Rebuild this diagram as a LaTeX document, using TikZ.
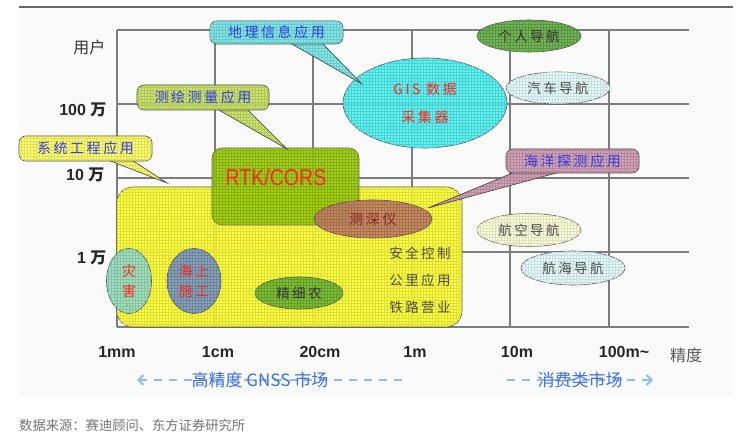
\documentclass[tikz,border=0pt]{standalone}
\usepackage{fontspec}
\setmainfont{Liberation Sans}
\newfontfamily\cjk{Noto Sans CJK SC}
\newfontfamily\cjksp[LetterSpace=18]{Noto Sans CJK SC}
\usetikzlibrary{shapes.geometric,patterns,arrows.meta}

\definecolor{gridc}{RGB}{125,125,125}
\definecolor{framebg}{RGB}{250,250,250}
\definecolor{ybox}{RGB}{255,255,50}
\definecolor{rtkc}{RGB}{150,200,10}
\definecolor{sscc}{RGB}{190,125,95}
\definecolor{gisc}{RGB}{80,240,240}
\definecolor{grnc}{RGB}{100,170,70}
\definecolor{lcyan}{RGB}{228,252,252}
\definecolor{lyel}{RGB}{255,255,215}
\definecolor{zhc}{RGB}{150,220,195}
\definecolor{hsc}{RGB}{120,150,190}
\definecolor{jxc}{RGB}{110,180,50}
\definecolor{c1c}{RGB}{120,228,228}
\definecolor{c2c}{RGB}{200,225,100}
\definecolor{c3c}{RGB}{255,255,100}
\definecolor{c4c}{RGB}{205,155,175}
\definecolor{cblue}{RGB}{50,60,235}
\definecolor{tred}{RGB}{255,40,30}
\definecolor{ssred}{RGB}{140,40,40}
\definecolor{mblue}{RGB}{60,110,235}
\definecolor{mdash}{RGB}{140,190,240}

\tikzset{
  gridline/.style={draw=gridc, line width=1.6pt},
  texture/.style={postaction={pattern=grid, pattern color=#1!88!black}},
  shp/.style={draw=black!70, line width=0.6pt, fill=#1, fill opacity=0.86, text opacity=1, inner sep=0pt, texture=#1},
  ell/.style={shp=#1, ellipse},
  navtext/.style={font=\cjksp\fontsize{13.5}{13.5}\selectfont, text=black!70},
  callbox/.style={draw=black!75, line width=0.6pt, rounded corners=7pt, inner sep=0pt,
     fill=#1, fill opacity=0.9, text opacity=1, text=cblue, texture=#1,
     font=\cjksp\fontsize{14}{14}\selectfont},
  callwedge/.style={fill=#1, fill opacity=0.9, texture=#1},
  wedgeline/.style={draw=black!75, line width=0.6pt},
  ylab/.style={anchor=east, font=\bfseries\fontsize{16}{16}\selectfont, text=black!85},
  xlab/.style={font=\bfseries\fontsize{16}{16}\selectfont, text=black!85},
  mkt/.style={draw=mdash, line width=2pt, dash pattern=on 8pt off 7pt},
  mkttext/.style={font=\cjk\fontsize{17}{17}\selectfont, text=mblue}
}

\begin{document}
\begin{tikzpicture}[x=1pt,y=-1pt]
\useasboundingbox (0,0) rectangle (745,438);

% frame
\fill[framebg] (19,7) rectangle (733,397);
\draw[black!60, line width=2pt] (19,7) -- (733,7);

% grid
\foreach \yy in {30,104,178,252,327} \draw[gridline] (117,\yy) -- (689,\yy);
\foreach \xx in {117,215,313,412,510,609} \draw[gridline] (\xx,30) -- (\xx,327);

% big shapes
\node[shp=ybox, rectangle, rounded corners=16pt, minimum width=345pt, minimum height=140pt] (sys) at (289.5,257) {};
\node[shp=rtkc, rectangle, rounded corners=10pt, draw=black!60, minimum width=147pt, minimum height=77pt] (rtk) at (285.5,186.5) {};
\node[anchor=center, text=tred, inner sep=0pt] (rtktxt) at (276,177) {\scalebox{0.85}[1]{\fontsize{23}{23}\selectfont RTK/CORS}};

\node[ell=sscc, minimum width=118pt, minimum height=38pt, text=ssred, font=\cjksp\fontsize{14}{14}\selectfont] (ss) at (373,219) {测深仪};
\node[ell=jxc, minimum width=88pt, minimum height=32pt, navtext, text=black!80] (jx) at (299,293) {精细农};
\node[ell=zhc, minimum width=45pt, minimum height=65pt, text=tred, align=center,
      font=\cjk\fontsize{14}{20}\selectfont,
      label={[label distance=-9pt, inner sep=0pt, font=\fontsize{10}{10}\selectfont, text=black!45]south:..}] (zh) at (129,281) {灾\\害};
\node[ell=hsc, minimum width=54pt, minimum height=65pt, text=tred, align=center,
      font=\cjksp\fontsize{14}{20}\selectfont] (hs) at (194,281) {海上\\施工};
\node[ell=gisc, minimum width=164pt, minimum height=90pt, text=tred, align=center,
      font=\cjksp\fontsize{14}{28}\selectfont] (gis) at (425,103) {GIS 数据\\采集器};
\node[ell=grnc, minimum width=104pt, minimum height=32pt, navtext, text=black!80] (gr) at (529,36) {个人导航};
\node[ell=lcyan, minimum width=104pt, minimum height=32pt, navtext] (qc) at (558,88) {汽车导航};
\node[ell=lyel, minimum width=104pt, minimum height=33pt, navtext] (hk) at (529,230) {航空导航};
\node[ell=lcyan, minimum width=104pt, minimum height=34pt, navtext] (hh) at (573,268) {航海导航};

\node[navtext, align=center, font=\cjksp\fontsize{13.5}{27}\selectfont] (apps) at (420,280) {安全控制\\公里应用\\铁路营业};

% callout wedges
\coordinate (w1a) at (290,43); \coordinate (w1b) at (322,43); \coordinate (w1t) at (362,84);
\coordinate (w2a) at (217,109); \coordinate (w2b) at (247,109); \coordinate (w2t) at (287,149);
\coordinate (w3a) at (108,160); \coordinate (w3b) at (132,160); \coordinate (w3t) at (167,183);
\coordinate (w4a) at (515,172); \coordinate (w4b) at (560,172); \coordinate (w4t) at (428,208);

\fill[callwedge=c1c] (w1a) -- (w1t) -- (w1b) -- cycle;
\draw[wedgeline] (w1a) -- (w1t) -- (w1b);
\fill[callwedge=c2c] (w2a) -- (w2t) -- (w2b) -- cycle;
\draw[wedgeline] (w2a) -- (w2t) -- (w2b);
\fill[callwedge=c3c] (w3a) -- (w3t) -- (w3b) -- cycle;
\draw[wedgeline] (w3a) -- (w3t) -- (w3b);
\fill[callwedge=c4c] (w4a) -- (w4t) -- (w4b) -- cycle;
\draw[wedgeline] (w4a) -- (w4t) -- (w4b);

% callout boxes
\node[callbox=c1c, minimum width=133pt, minimum height=23pt] (c1) at (276.5,32.5) {地理信息应用};
\node[callbox=c2c, minimum width=132pt, minimum height=25pt] (c2) at (203,97.5) {测绘测量应用};
\node[callbox=c3c, minimum width=133pt, minimum height=25pt] (c3) at (85.5,148.5) {系统工程应用};
\node[callbox=c4c, minimum width=133pt, minimum height=24pt] (c4) at (572.5,161) {海洋探测应用};

% axis labels
\node[anchor=east, font=\cjk\fontsize{16}{16}\selectfont, text=black!80] (yu) at (109,47) {用户};
\node[ylab] (y100) at (110,110) {100 {\cjk\bfseries 万}};
\node[ylab] (y10) at (108,175) {10 {\cjk\bfseries 万}};
\node[ylab] (y1) at (110,258) {1 {\cjk\bfseries 万}};

\node[xlab] (x1) at (117,352) {1mm};
\node[xlab] (x2) at (218,352) {1cm};
\node[xlab] (x3) at (320,352) {20cm};
\node[xlab] (x4) at (415,352) {1m};
\node[xlab] (x5) at (517,352) {10m};
\node[xlab] (x6) at (624,352) {100m\textasciitilde};
\node[font=\cjk\fontsize{16}{16}\selectfont, text=black!65] (xj) at (686,355) {精度};

% market arrows
\coordinate (la) at (137,380); \coordinate (lb) at (403,380);
\coordinate (ra) at (507,380); \coordinate (rb) at (653,380);
\draw[mkt, {Straight Barb[length=5pt,width=10pt]}-] (la) -- (lb);
\draw[mkt, -{Straight Barb[length=5pt,width=10pt]}] (ra) -- (rb);
\node[mkttext] (hp) at (260,380) {高精度 GNSS 市场};
\node[mkttext] (xf) at (580,380) {消费类市场};

% source
\node[anchor=west, font=\cjk\fontsize{13.3}{13.3}\selectfont, text=black!55, inner sep=0pt] (src) at (19,425) {数据来源：赛迪顾问、东方证券研究所};
\end{tikzpicture}
\end{document}
